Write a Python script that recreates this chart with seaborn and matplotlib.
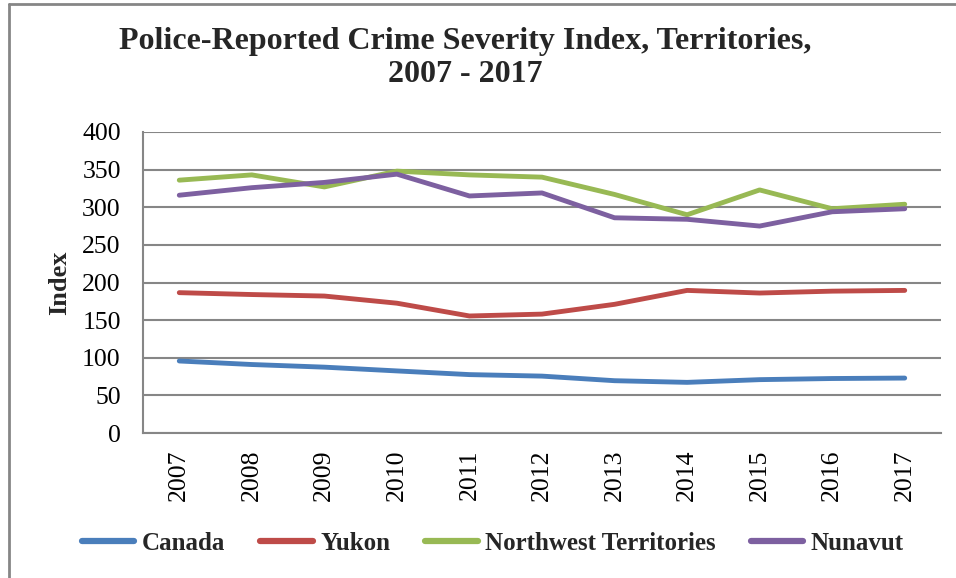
import matplotlib
matplotlib.use("Agg")
import matplotlib.pyplot as plt
import seaborn as sns
import pandas as pd
from matplotlib.lines import Line2D

years = ["2007", "2008", "2009", "2010", "2011", "2012", "2013", "2014", "2015", "2016", "2017"]
canada = [95.7, 91.0, 87.5, 82.5, 77.6, 75.6, 69.5, 67.3, 70.9, 72.4, 73.0]
yukon = [186.5, 184.0, 182.0, 172.5, 155.5, 158.0, 171.0, 189.5, 186.0, 188.5, 189.5]
nwt = [336.0, 343.0, 327.0, 348.0, 343.0, 340.0, 317.0, 290.0, 323.0, 298.0, 304.0]
nunavut = [316.0, 326.0, 333.0, 344.0, 315.0, 319.0, 286.0, 284.0, 275.0, 294.0, 298.0]
series_names = ["Canada", "Yukon", "Northwest Territories", "Nunavut"]
colors = ["#4A7EBB", "#BE4B48", "#98B954", "#7D60A0"]

df = pd.DataFrame({"Year": years, "Canada": canada, "Yukon": yukon,
                   "Northwest Territories": nwt, "Nunavut": nunavut})
long = df.melt(id_vars="Year", var_name="Series", value_name="Index")

sns.set_theme(style="white")
plt.rcParams["font.family"] = ["Liberation Serif", "DejaVu Serif"]

fig = plt.figure(figsize=(9.56, 5.78), dpi=100)
ax = fig.add_axes([143/956, 1-433/578, (941-143)/956, (433-132)/578])

sns.lineplot(data=long, x="Year", y="Index", hue="Series", hue_order=series_names,
             palette=colors, linewidth=3.5, ax=ax, legend=False, sort=False)

ax.set_xlim(-0.5, len(years) - 0.5)
ax.set_ylim(0, 400)
ax.set_yticks(range(0, 401, 50))
ax.yaxis.grid(True, color="#868686", linewidth=1.5)
ax.set_axisbelow(True)
for s in ["top", "right"]:
    ax.spines[s].set_visible(False)
for s in ["left", "bottom"]:
    ax.spines[s].set_color("#868686")
    ax.spines[s].set_linewidth(1.5)
ax.tick_params(axis="y", length=0, pad=16, labelsize=18.5, colors="black")
ax.tick_params(axis="x", length=0, pad=12, labelsize=18.5, colors="black", labelrotation=90)
ax.set_xlabel("")
ax.set_ylabel("Index", fontsize=19, fontweight="bold", labelpad=8)
ax.yaxis.set_label_coords(-(143-71)/798, 0.5)

fig.text(465/956, 1-42/578, "Police-Reported Crime Severity Index, Territories,",
         ha="center", va="center", fontsize=23, fontweight="bold")
fig.text(465/956, 1-75/578, "2007 - 2017",
         ha="center", va="center", fontsize=23, fontweight="bold")

handles = [Line2D([0], [0], color=c, linewidth=4.5, solid_capstyle="round") for c in colors]
fig.legend(handles, series_names, loc="center", bbox_to_anchor=(493/956, 1-543/578),
           ncol=4, frameon=False, prop={"size": 18, "weight": "bold"},
           handlelength=2.1, handletextpad=0.3, columnspacing=1.4)

# outer border (left and top only visible)
fig.add_artist(Line2D([9/956, 9/956], [0, 1-4/578], color="#868686", linewidth=2,
                      transform=fig.transFigure))
fig.add_artist(Line2D([9/956, 1], [1-4/578, 1-4/578], color="#868686", linewidth=2,
                      transform=fig.transFigure))

fig.savefig("out.png", dpi=100)
